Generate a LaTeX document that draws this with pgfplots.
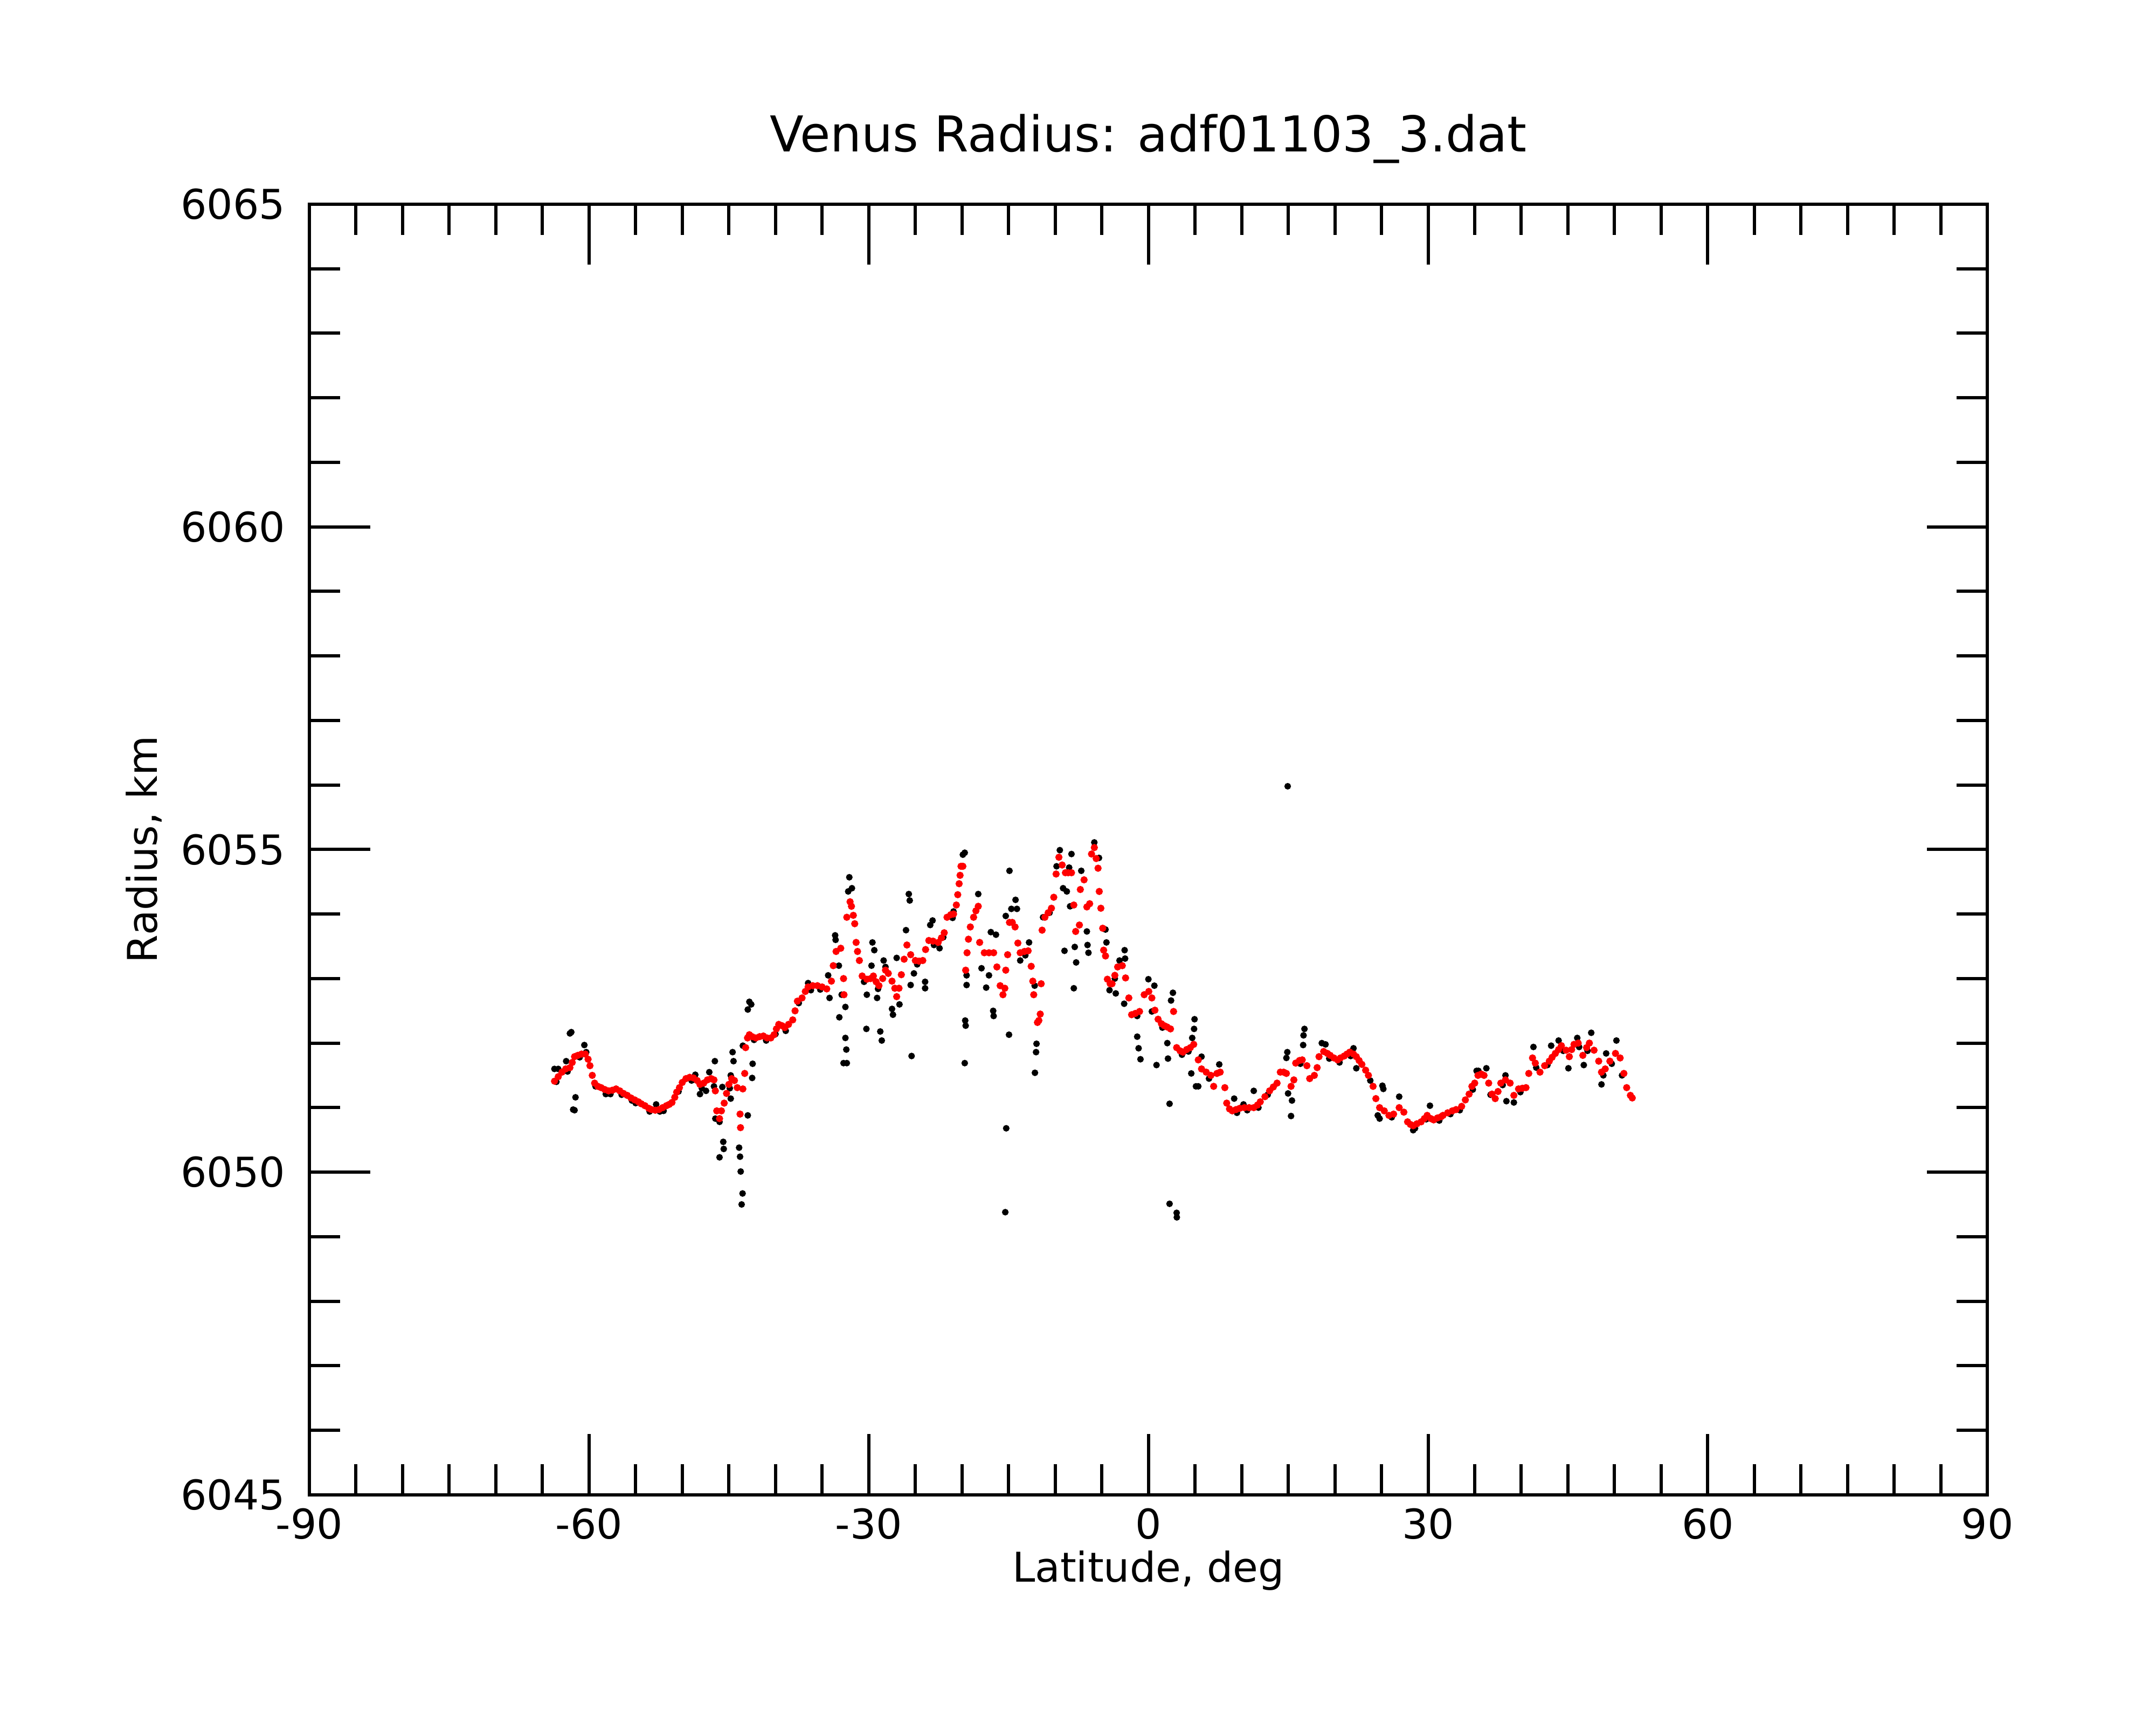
\documentclass[border=0pt]{standalone}
\usepackage{fontspec}
\setmainfont{DejaVu Sans}
\usepackage{pgfplots}
\pgfplotsset{compat=1.18}
\begin{document}
\begin{tikzpicture}
\useasboundingbox (0,0) rectangle (720pt,576pt);
\begin{axis}[
  at={(103.3pt,76.7pt)}, anchor=south west,
  scale only axis, width=560.4pt, height=431.1pt,
  xmin=-90, xmax=90, ymin=6045, ymax=6065,
  xtick={-90,-60,-30,0,30,60,90},
  xticklabels={-90,-60,-30,0,30,60,90},
  ytick={6045,6050,6055,6060,6065},
  yticklabels={6045,6050,6055,6060,6065},
  minor x tick num=5, minor y tick num=4,
  tick align=inside, xtick pos=both, ytick pos=both,
  xticklabel pos=lower, yticklabel pos=left,
  major tick length=20.3pt, minor tick length=10.3pt,
  every tick/.style={black, line width=1.08pt},
  axis line style={line width=1.08pt},
  tick label style={font=\fontsize{13.7}{16}\selectfont, inner sep=0pt},
  xticklabel style={anchor=north, yshift=-4.3pt},
  yticklabel style={anchor=east, xshift=-7.9pt},
  title={Venus Radius: adf01103\_3.dat},
  every axis title/.style={at={(0.5,1)}, anchor=base, yshift=17.46pt, inner sep=0pt, font=\fontsize{16.5}{20}\selectfont},
  xlabel={Latitude, deg},
  every axis x label/.style={at={(0.5,0)}, anchor=base, yshift=-29.0pt, inner sep=0pt, font=\fontsize{13.7}{16}\selectfont},
  ylabel={Radius, km},
  every axis y label/.style={at={(0,0.5)}, rotate=90, anchor=base, yshift=50.8pt, inner sep=0pt, font=\fontsize{13.7}{16}\selectfont},
  clip=false,
]
% raw radii (black)
\addplot[only marks, mark=*, mark size=0.9pt, draw=black, fill=black] coordinates {
(-63.5,6051.40) (-62.3,6051.56) (-61.0,6051.78) (-59.3,6051.33) (-58.0,6051.22) (-56.5,6051.20)
(-55.0,6051.07) (-53.5,6050.94) (-52.0,6050.95) (-50.4,6051.25) (-49.0,6051.42) (-47.9,6051.30)
(-44.9,6051.30) (-42.3,6052.05) (-41.0,6052.04) (-40.0,6052.14) (-38.9,6052.19) (-37.5,6052.62)
(-36.2,6052.82) (-35.2,6052.83) (-30.5,6052.95) (-29.0,6052.84) (-24.8,6053.22) (-23.0,6053.52)
(-22.0,6053.64) (-21.0,6053.94) (-13.2,6053.36) (-10.6,6054.02) (-3.6,6053.00) (-1.2,6052.42)
(1.5,6052.24) (3.6,6051.82) (4.3,6051.87) (6.5,6051.45) (9.5,6050.92) (10.6,6050.96)
(11.8,6051.00) (12.8,6051.20) (16.3,6051.68) (19.4,6051.76) (20.5,6051.70) (21.7,6051.80)
(23.8,6051.42) (26.1,6050.85) (28.6,6050.68) (29.8,6050.82) (31.2,6050.80) (32.4,6050.90)
(33.4,6050.96) (34.8,6051.28) (36.7,6051.20) (38.0,6051.35) (39.9,6051.24) (41.6,6051.62)
(42.8,6051.66) (44.5,6051.88) (46.2,6051.94) (47.1,6051.88) (48.8,6051.50) (49.7,6051.68)
(50.8,6051.50)
(-63.71,6051.60) (-63.3,6051.60) (-62.45,6051.72) (-62.05,6052.15) (-61.9,6052.17) (-61.45,6051.16)
(-61.7,6050.97) (-61.55,6050.96) (-60.5,6051.97) (-60.3,6051.86) (-58.2,6051.21) (-57.7,6051.21)
(-55.4,6051.11) (-52.8,6051.05) (-52.4,6050.94) (-48.6,6051.51) (-48.1,6051.21) (-47.45,6051.26)
(-47.1,6051.55) (-46.5,6051.72) (-46.6,6051.33) (-46.45,6050.83) (-46.0,6050.78) (-45.6,6050.47)
(-45.55,6050.36) (-46.0,6050.23) (-45.7,6051.32) (-44.8,6051.50) (-44.6,6051.86) (-44.5,6051.72)
(-44.8,6051.14) (-43.9,6050.38) (-43.8,6050.24) (-43.73,6050.01) (-43.53,6049.67) (-43.63,6049.50)
(-42.97,6050.88) (-42.5,6051.46) (-42.45,6051.68) (-42.8,6052.64) (-42.6,6052.60) (-42.97,6052.52)
(-43.5,6051.96) (-36.5,6052.93) (-34.35,6053.05) (-34.2,6052.70) (-33.6,6053.67) (-33.55,6053.60)
(-33.2,6053.20) (-32.9,6052.75) (-33.15,6052.40) (-32.5,6052.56) (-32.5,6052.08) (-32.4,6051.90)
(-32.7,6051.69) (-32.35,6051.69) (-32.08,6054.57) (-31.8,6054.40) (-32.2,6054.35) (-30.25,6052.22)
(-29.6,6053.56) (-29.4,6053.44) (-29.7,6053.20) (-30.2,6052.75) (-29.1,6052.70) (-28.76,6052.18)
(-28.6,6052.04) (-28.4,6053.28) (-28.2,6053.18) (-27.5,6052.53) (-27.4,6052.44) (-27.0,6053.32)
(-26.7,6052.60) (-25.7,6054.31) (-25.6,6054.21) (-26.0,6053.75) (-25.4,6051.80) (-25.5,6052.90)
(-25.15,6053.08) (-23.95,6052.95) (-23.95,6052.85) (-23.4,6053.83) (-23.15,6053.90) (-22.4,6053.47)
(-20.9,6054.04) (-19.9,6054.92) (-19.7,6054.95) (-19.5,6053.05) (-19.5,6052.90) (-19.65,6052.35)
(-19.6,6052.27) (-19.7,6051.69) (-18.25,6054.31) (-17.9,6053.16) (-17.4,6052.86) (-16.9,6053.72)
(-16.35,6053.68) (-17.1,6053.05) (-16.65,6052.50) (-16.6,6052.42) (-15.3,6053.97) (-14.9,6054.67)
(-14.25,6054.22) (-14.7,6054.08) (-14.1,6054.08) (-14.95,6052.13) (-15.25,6050.68) (-15.35,6049.38)
(-13.75,6053.28) (-12.8,6053.56) (-12.2,6052.89) (-12.0,6051.99) (-12.05,6051.86) (-12.17,6051.54)
(-11.3,6053.95) (-9.5,6054.99) (-9.85,6054.74) (-8.25,6054.93) (-9.15,6054.40) (-8.75,6054.35)
(-8.5,6054.72) (-7.2,6054.67) (-9.0,6053.43) (-8.4,6054.12) (-7.9,6053.49) (-7.75,6053.25)
(-8.0,6052.85) (-6.6,6053.73) (-6.53,6053.52) (-6.43,6053.40) (-5.8,6055.11) (-5.3,6054.87)
(-4.6,6053.76) (-4.5,6053.56) (-2.55,6053.44) (-2.5,6053.31) (-3.1,6053.28) (-4.17,6052.82)
(-3.5,6052.77) (-2.6,6052.61) (0.0,6052.99) (0.64,6052.89) (-1.2,6052.10) (-1.05,6051.92)
(-0.85,6051.75) (0.87,6051.66) (0.37,6052.49) (2.03,6052.00) (2.1,6051.76) (2.27,6051.06)
(2.27,6049.51) (3.03,6049.37) (3.05,6049.30) (2.43,6052.66) (2.63,6052.78) (4.7,6052.08)
(4.9,6052.22) (4.95,6052.37) (4.6,6051.53) (5.1,6051.33) (5.35,6051.33) (5.7,6051.79)
(7.6,6051.67) (9.2,6051.14) (10.2,6051.05) (11.3,6051.26) (14.9,6051.86) (14.8,6051.77)
(14.98,6051.22) (15.4,6051.11) (15.3,6050.87) (14.94,6055.98) (16.6,6051.97) (16.74,6052.22)
(16.64,6052.12) (18.6,6052.00) (19.0,6051.98) (22.0,6051.92) (22.3,6051.61) (25.1,6051.34)
(25.2,6051.29) (24.6,6050.88) (24.8,6050.83) (26.9,6051.17) (30.2,6051.03) (28.4,6050.65)
(35.2,6051.57) (35.4,6051.57) (36.25,6051.61) (38.3,6051.50) (38.4,6051.10) (39.2,6051.08)
(41.3,6051.94) (43.2,6051.96) (44.0,6052.04) (45.05,6051.61) (46.0,6052.08) (47.5,6052.16)
(46.7,6051.66) (48.6,6051.36) (49.1,6051.84) (50.2,6052.04)
};
% smoothed radii (red)
\addplot[only marks, mark=*, mark size=1.0pt, draw=red, fill=red] coordinates {
(-63.7,6051.41) (-63.3,6051.48) (-62.9,6051.55) (-62.5,6051.60) (-62.05,6051.62) (-61.8,6051.70)
(-61.55,6051.79) (-61.2,6051.81) (-60.8,6051.83) (-60.4,6051.83) (-60.1,6051.75) (-59.9,6051.65)
(-59.65,6051.50) (-59.4,6051.38) (-59.05,6051.33) (-58.7,6051.31) (-58.3,6051.28) (-57.9,6051.26)
(-57.5,6051.27) (-57.1,6051.29) (-56.7,6051.26) (-56.3,6051.22) (-55.9,6051.19) (-55.5,6051.15)
(-55.1,6051.12) (-54.7,6051.09) (-54.4,6051.06) (-54.0,6051.03) (-53.6,6050.99) (-53.3,6050.97)
(-52.9,6050.96) (-52.5,6050.97) (-52.1,6051.00) (-51.7,6051.03) (-51.4,6051.05) (-51.1,6051.08)
(-50.8,6051.16) (-50.6,6051.24) (-50.3,6051.31) (-50.0,6051.39) (-49.6,6051.45) (-49.2,6051.47)
(-48.8,6051.46) (-48.4,6051.42) (-48.1,6051.36) (-47.7,6051.38) (-47.3,6051.43) (-46.9,6051.45)
(-46.6,6051.43) (-46.45,6051.26) (-46.3,6050.95) (-46.0,6050.83) (-45.8,6050.95) (-45.5,6051.07)
(-45.25,6051.22) (-45.0,6051.36) (-44.7,6051.45) (-44.4,6051.42) (-44.1,6051.31) (-43.8,6050.90)
(-43.75,6050.69) (-43.5,6051.29) (-43.3,6051.53) (-43.2,6051.93) (-43.0,6052.08) (-42.8,6052.13)
(-42.5,6052.10) (-42.1,6052.08) (-41.7,6052.10) (-41.3,6052.11) (-40.9,6052.08) (-40.5,6052.08)
(-40.15,6052.13) (-39.9,6052.22) (-39.65,6052.29) (-39.3,6052.27) (-39.0,6052.24) (-38.6,6052.29)
(-38.15,6052.36) (-37.9,6052.50) (-37.65,6052.65) (-37.15,6052.70) (-36.8,6052.80) (-36.5,6052.87)
(-36.0,6052.89) (-35.5,6052.89) (-35.0,6052.87) (-34.5,6052.84) (-34.0,6052.96) (-33.8,6053.20)
(-33.5,6053.42) (-33.0,6053.47) (-32.7,6053.00) (-32.65,6052.75) (-32.35,6053.95) (-32.0,6054.19)
(-31.85,6054.12) (-31.65,6053.98) (-31.5,6053.85) (-31.35,6053.56) (-31.2,6053.42) (-31.0,6053.28)
(-30.7,6053.04) (-30.2,6052.99) (-29.8,6053.00) (-29.5,6053.04) (-29.2,6052.95) (-28.9,6052.89)
(-28.5,6053.00) (-28.2,6053.13) (-27.9,6053.08) (-27.5,6052.96) (-27.2,6052.85) (-27.0,6052.72)
(-26.75,6052.85) (-26.5,6053.06) (-26.2,6053.30) (-25.9,6053.52) (-25.5,6053.37) (-25.0,6053.28)
(-24.6,6053.27) (-24.2,6053.28) (-23.9,6053.45) (-23.55,6053.59) (-23.1,6053.58) (-22.55,6053.56)
(-22.2,6053.63) (-21.9,6053.71) (-21.6,6053.95) (-21.2,6053.99) (-20.9,6054.00) (-20.6,6054.14)
(-20.45,6054.30) (-20.3,6054.47) (-20.2,6054.60) (-20.1,6054.74) (-19.9,6054.74) (-19.6,6053.13)
(-19.45,6053.40) (-19.3,6053.61) (-19.1,6053.80) (-18.75,6053.95) (-18.5,6054.05) (-18.25,6054.12)
(-18.1,6053.56) (-17.6,6053.40) (-17.1,6053.40) (-16.6,6053.40) (-16.25,6053.18) (-15.9,6052.89)
(-15.6,6052.75) (-15.4,6052.85) (-15.3,6053.13) (-15.1,6053.37) (-14.9,6053.87) (-14.6,6053.87)
(-14.3,6053.80) (-14.0,6053.55) (-13.75,6053.40) (-13.3,6053.42) (-12.9,6053.43) (-12.57,6053.19)
(-12.4,6052.96) (-12.3,6052.75) (-11.9,6052.32) (-11.75,6052.35) (-11.6,6052.45) (-11.5,6052.92)
(-11.4,6053.75) (-11.1,6053.95) (-10.75,6054.02) (-10.4,6054.09) (-10.15,6054.26) (-9.9,6054.62)
(-9.6,6054.88) (-9.25,6054.76) (-8.9,6054.64) (-8.6,6054.64) (-8.25,6054.64) (-8.0,6054.14)
(-7.8,6053.73) (-7.4,6053.83) (-7.3,6054.38) (-6.9,6054.53) (-6.6,6054.11) (-6.3,6054.16)
(-6.1,6054.93) (-5.8,6055.03) (-5.6,6054.86) (-5.4,6054.71) (-5.27,6054.35) (-5.1,6054.09)
(-4.9,6053.78) (-4.8,6053.44) (-4.6,6053.35) (-4.4,6052.99) (-4.1,6052.92) (-3.9,6052.92)
(-3.6,6053.05) (-3.3,6053.18) (-2.8,6053.20) (-2.45,6053.01) (-2.1,6052.70) (-1.8,6052.44)
(-1.4,6052.46) (-0.95,6052.49) (-0.45,6052.75) (0.04,6052.80) (0.37,6052.70) (0.7,6052.51)
(1.04,6052.37) (1.4,6052.30) (1.7,6052.27) (2.0,6052.25) (2.37,6052.22) (2.7,6052.49)
(3.03,6051.93) (3.4,6051.88) (3.7,6051.86) (4.1,6051.90) (4.5,6051.93) (4.86,6051.98)
(5.35,6051.74) (5.7,6051.60) (6.2,6051.55) (6.7,6051.50) (7.0,6051.33) (7.35,6051.53)
(7.7,6051.55) (8.2,6051.31) (8.4,6051.07) (8.7,6050.98) (9.0,6050.95) (9.4,6050.97)
(9.8,6050.99) (10.3,6051.00) (10.8,6051.00) (11.3,6051.00) (11.7,6051.04) (12.0,6051.09)
(12.5,6051.17) (13.0,6051.26) (13.4,6051.32) (13.8,6051.38) (14.15,6051.55) (14.5,6051.55)
(14.8,6051.53) (15.3,6051.33) (15.6,6051.43) (15.8,6051.69) (16.2,6051.73) (16.5,6051.74)
(17.0,6051.65) (17.3,6051.45) (17.8,6051.50) (18.1,6051.62) (18.3,6051.79) (18.8,6051.87)
(19.2,6051.84) (19.5,6051.81) (19.9,6051.77) (20.3,6051.74) (20.6,6051.77) (21.0,6051.80)
(21.3,6051.83) (21.6,6051.86) (22.0,6051.83) (22.3,6051.79) (22.6,6051.73) (22.9,6051.67)
(23.3,6051.58) (23.6,6051.50) (24.1,6051.33) (24.4,6051.14) (24.8,6051.00) (25.3,6050.95)
(25.8,6050.88) (26.3,6050.90) (26.9,6051.00) (27.4,6050.93) (27.8,6050.78) (28.1,6050.74)
(28.4,6050.72) (28.8,6050.75) (29.25,6050.78) (29.6,6050.83) (29.9,6050.88) (30.3,6050.83)
(30.6,6050.81) (31.0,6050.84) (31.4,6050.86) (31.6,6050.88) (32.1,6050.92) (32.6,6050.95)
(33.0,6050.97) (33.6,6051.02) (34.0,6051.12) (34.4,6051.21) (34.7,6051.33) (35.0,6051.38)
(35.35,6051.50) (35.7,6051.52) (36.0,6051.50) (36.5,6051.38) (36.85,6051.21) (37.2,6051.14)
(37.5,6051.25) (37.8,6051.38) (38.3,6051.43) (38.8,6051.38) (39.2,6051.19) (39.7,6051.29)
(40.1,6051.30) (40.5,6051.31) (40.8,6051.53) (41.2,6051.77) (41.5,6051.69) (42.0,6051.55)
(42.5,6051.65) (43.0,6051.72) (43.3,6051.78) (43.65,6051.84) (44.0,6051.90) (44.3,6051.96)
(44.8,6051.89) (45.15,6051.79) (45.4,6051.90) (45.65,6051.98) (46.1,6052.00) (46.6,6051.81)
(47.0,6051.93) (47.3,6052.00) (47.8,6051.89) (48.3,6051.72) (48.6,6051.55) (49.0,6051.60)
(49.5,6051.72) (50.1,6051.84) (50.6,6051.77) (51.0,6051.53) (51.3,6051.31) (51.7,6051.19)
(51.9,6051.15)
};
\end{axis}
\end{tikzpicture}
\end{document}
